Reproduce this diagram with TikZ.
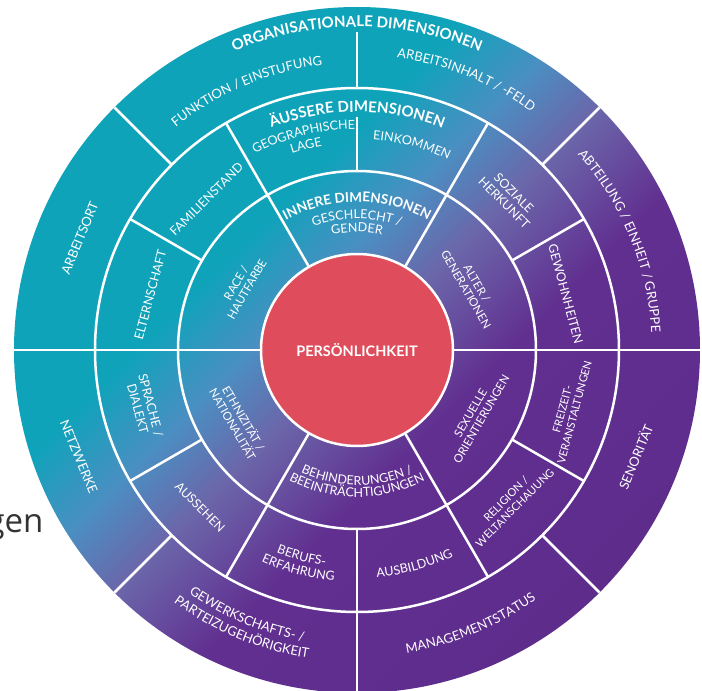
\documentclass[tikz,border=0pt]{standalone}
\usepackage{fontspec}
\setmainfont{Lato}
\newfontfamily\folienfont{Open Sans}
\usetikzlibrary{decorations.text}

\definecolor{tuerkis}{HTML}{0FA3BA}
\definecolor{blau}{HTML}{4A8FC2}
\definecolor{mitte}{HTML}{6B66AA}
\definecolor{lila}{HTML}{612F90}
\definecolor{lilatief}{HTML}{5A2986}
\definecolor{kernrot}{HTML}{DF4D5C}

\pgfdeclareverticalshading{dimverlauf}{100bp}{color(0bp)=(lilatief); color(42bp)=(lila); color(50bp)=(mitte); color(55.5bp)=(blau); color(61.5bp)=(tuerkis); color(100bp)=(tuerkis)}

\newcommand\titelfont{\fontsize{15}{17}\selectfont\bfseries}
\newcommand\ringfont{\fontsize{12.5}{13.5}\selectfont}
\newcommand\innenfont{\fontsize{11.5}{12.5}\selectfont}
\newcommand\kleinfont{\fontsize{11}{12.5}\selectfont}
\newcommand\aussenfont{\fontsize{13}{14}\selectfont}

% Text auf einem Bogen: Schrift, Radius der Grundlinie, Winkel, Text
\newcommand\bogenoben[4]{%
	\pgfmathsetmacro\wa{#3+70}\pgfmathsetmacro\wb{#3-70}%
	\path[bogen, decoration={text={|#1|#4}}] (\wa:#2pt) arc[start angle=\wa, end angle=\wb, radius=#2pt];}
\newcommand\bogenunten[4]{%
	\pgfmathsetmacro\wa{#3-70}\pgfmathsetmacro\wb{#3+70}%
	\path[bogen, decoration={text={|#1|#4}}] (\wa:#2pt) arc[start angle=\wa, end angle=\wb, radius=#2pt];}

\tikzset{
	bogen/.style={decorate, decoration={text along path, text align=center, text color=white}},
	trenner/.style={draw=white, line width=2.5pt},
	etikett/.style={text=white, align=center, inner sep=0pt, font=\ringfont},
	aussen/.style={etikett, font=\aussenfont},
	innen/.style={etikett, font=\innenfont},
}

\begin{document}
\begin{tikzpicture}
	\useasboundingbox (-357pt,-341pt) rectangle (345pt,350pt);
	\shade[shading=dimverlauf, shading angle=45] (0,0) circle (343pt);
	% Ringe und Trennlinien
	\draw[trenner] (0,0) circle (179pt) (0,0) circle (262pt);
	\foreach \w in {0,180} \draw[trenner] (\w:96pt) -- (\w:343pt);
	\draw[trenner] (270:179pt) -- (270:343pt);
	\draw[trenner] (90:179pt) -- (90:233pt) (90:262pt) -- (90:318pt);
	\foreach \w in {45,135,225,315} \draw[trenner] (\w:262pt) -- (\w:343pt);
	\foreach \w in {30,60,120,150,210,240,300,330} \draw[trenner] (\w:179pt) -- (\w:262pt);
	\foreach \w in {60,120,240,300} \draw[trenner] (\w:96pt) -- (\w:179pt);
	\node[circle, minimum size=192pt, fill=kernrot, draw=white, line width=2.5pt, text=white, font=\fontsize{14.5}{16}\selectfont\bfseries] (kern) at (0,0) {PERSÖNLICHKEIT};

	% organisationale Dimensionen
	\bogenoben{\titelfont}{323}{90}{ORGANISATIONALE DIMENSIONEN}
	\bogenoben{\aussenfont}{287}{113}{FUNKTION / EINSTUFUNG}
	\bogenoben{\aussenfont}{295}{68}{ARBEITSINHALT / -FELD}
	\bogenoben{\aussenfont}{295}{22.5}{ABTEILUNG / EINHEIT / GRUPPE}
	\bogenunten{\aussenfont}{307}{292.5}{MANAGEMENTSTATUS}
	\bogenunten{\aussenfont}{296}{247.5}{GEWERKSCHAFTS- /}
	\bogenunten{\aussenfont}{312}{247.5}{PARTEIZUGEHÖRIGKEIT}
	\node[aussen, rotate=67.5] (arbeitsort) at (158:299pt) {ARBEITSORT};
	\node[aussen, rotate=-67.5] (netzwerke) at (201:298pt) {NETZWERKE};
	\node[aussen, rotate=67.5] (senioritaet) at (339:298pt) {SENORITÄT};

	% äussere Dimensionen
	\bogenoben{\titelfont}{238}{90}{ÄUSSERE DIMENSIONEN}
	\bogenoben{\ringfont}{221}{104}{GEOGRAPHISCHE}
	\bogenoben{\ringfont}{207}{104}{LAGE}
	\bogenoben{\ringfont}{211}{75}{EINKOMMEN}
	\bogenunten{\ringfont}{228}{285}{AUSBILDUNG}
	\bogenunten{\ringfont}{218}{255}{BERUFS-}
	\bogenunten{\ringfont}{232}{255}{ERFAHRUNG}
	\node[etikett, rotate=-45] (herkunft) at (45:215pt) {SOZIALE\\HERKUNFT};
	\node[etikett, rotate=-75] (gewohnheiten) at (15:216pt) {GEWOHNHEITEN};
	\node[etikett, font=\kleinfont, rotate=75] (freizeit) at (-16:220pt) {FREIZEIT-\\VERANSTALTUNGEN};
	\node[etikett, font=\kleinfont, rotate=45] (religion) at (-45:217pt) {RELIGION /\\WELTANSCHAUUNG};
	\node[etikett, rotate=-45] (aussehen) at (225:222pt) {AUSSEHEN};
	\node[etikett, rotate=-75] (sprache) at (195:220pt) {SPRACHE /\\DIALEKT};
	\node[etikett, rotate=75] (elternschaft) at (165:214pt) {ELTERNSCHAFT};
	\node[etikett, rotate=45] (familienstand) at (135:213pt) {FAMILIENSTAND};

	% innere Dimensionen
	\bogenoben{\fontsize{13.5}{15}\selectfont\bfseries}{148}{90}{INNERE DIMENSIONEN}
	\bogenoben{\ringfont}{131}{90}{GESCHLECHT /}
	\bogenoben{\ringfont}{118}{90}{GENDER}
	\bogenunten{\ringfont}{135}{270}{BEHINDERUNGEN /}
	\bogenunten{\ringfont}{147}{270}{BEEINTRÄCHTIGUNGEN}
	\node[innen, rotate=-60] (alter) at (29:131pt) {ALTER /\\GENERATIONEN};
	\node[innen, rotate=60] (sexuell) at (-29:136pt) {SEXUELLE\\ORIENTIERUNGEN};
	\node[innen, rotate=-60] (ethnie) at (211:138pt) {ETHNIZITÄT /\\NATIONALITÄT};
	\node[innen, rotate=60] (race) at (151:132pt) {RACE /\\HAUTFARBE};

	\node[anchor=base east, text=black!80, font=\folienfont\fontsize{33}{36}\selectfont] (gen) at (-310pt,-182pt) {gen};
\end{tikzpicture}
\end{document}
